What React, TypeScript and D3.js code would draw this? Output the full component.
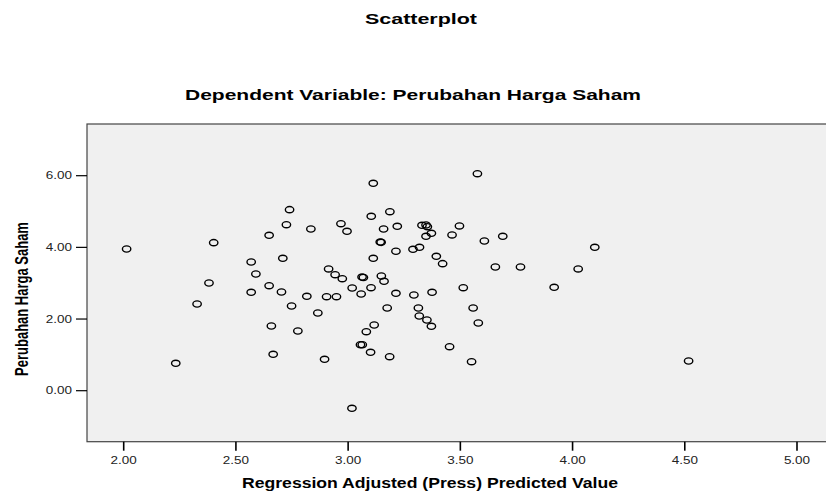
import React, { useRef, useEffect } from "react";
import * as d3 from "d3";

// Regression Adjusted (Press) Predicted Value
const predValue = [
	2.013, 2.401, 2.232, 2.327, 2.380, 2.568, 2.589, 2.568, 2.648, 2.725,
	2.739, 2.709, 2.648, 2.703, 2.748, 2.658, 2.776, 2.666, 2.834, 2.968,
	2.995, 3.103, 3.186, 3.158, 3.219, 3.329, 3.347, 3.353, 3.371, 3.347,
	3.496, 3.463, 3.689, 3.607, 3.143, 3.147, 3.213, 3.289, 3.318, 3.393,
	3.421, 3.656, 3.768, 3.112, 2.913, 2.942, 2.974, 3.062, 3.068, 3.148,
	3.160, 3.018, 3.102, 3.058, 3.513, 2.816, 2.904, 2.948, 3.213, 3.293,
	3.374, 2.865, 3.174, 3.313, 3.557, 3.317, 3.351, 3.371, 3.580, 3.116,
	3.081, 3.055, 3.063, 3.100, 3.185, 3.452, 3.550, 2.895, 3.017, 3.576,
	3.112, 4.099, 4.025, 3.918, 4.517
];

// Perubahan Harga Saham
const hargaSaham = [
	3.955, 4.131, 0.765, 2.420, 3.006, 3.592, 3.257, 2.746, 4.337, 4.633,
	5.052, 3.695, 2.930, 2.755, 2.364, 1.806, 1.666, 1.016, 4.513, 4.661,
	4.449, 4.867, 4.996, 4.513, 4.588, 4.616, 4.625, 4.577, 4.393, 4.309,
	4.597, 4.346, 4.309, 4.178, 4.150, 4.140, 3.891, 3.946, 4.002, 3.751,
	3.545, 3.452, 3.452, 3.695, 3.397, 3.237, 3.126, 3.170, 3.160, 3.201,
	3.053, 2.866, 2.875, 2.699, 2.875, 2.635, 2.623, 2.623, 2.718, 2.671,
	2.746, 2.169, 2.308, 2.308, 2.308, 2.085, 1.973, 1.797, 1.889, 1.834,
	1.647, 1.284, 1.284, 1.072, 0.949, 1.228, 0.809, 0.876, -0.491, 6.056,
	5.788, 4.002, 3.397, 2.886, 0.829
];

const xTicks = [2.0, 2.5, 3.0, 3.5, 4.0, 4.5, 5.0];
const yTicks = [0, 2, 4, 6];

const Scatter = () => {
	const svg_ref = useRef(null);
	const width = 826;
	const height = 494;
	const stretch = 1.35;

	useEffect(() => {
		const svg = d3.select(svg_ref.current);
		svg.selectChildren().remove();

		// frame of the plot area
		const left = 87, top = 124, bottom = 441.7;

		const x_scale = d3.scaleLinear().domain([2, 5]).range([123.7, 797]);
		const y_scale = d3.scaleLinear().domain([0, 6]).range([390.7, 175.7]);

		svg.append("rect")
			.attr("x", left)
			.attr("y", top)
			.attr("width", 800)
			.attr("height", bottom - top)
			.attr("fill", "#f0f0f0")
			.attr("stroke", "#444")
			.attr("stroke-width", 1.2);

		// x ticks
		const xg = svg.append("g");
		xTicks.forEach(t => {
			xg.append("line")
				.attr("x1", x_scale(t)).attr("x2", x_scale(t))
				.attr("y1", bottom).attr("y2", bottom + 9)
				.attr("stroke", "#000").attr("stroke-width", 1.6);
			xg.append("text")
				.attr("transform", `translate(${x_scale(t)}, 464) scale(${stretch}, 1)`)
				.attr("text-anchor", "middle")
				.style("font-family", "Liberation Sans, Arial, sans-serif")
				.style("font-size", "10px")
				.attr("fill", "#222")
				.text(d3.format(".2f")(t));
		});

		// y ticks
		const yg = svg.append("g");
		yTicks.forEach(t => {
			yg.append("line")
				.attr("x1", left - 11).attr("x2", left)
				.attr("y1", y_scale(t)).attr("y2", y_scale(t))
				.attr("stroke", "#000").attr("stroke-width", 1.2);
			yg.append("text")
				.attr("transform", `translate(72, ${y_scale(t) + 3.5}) scale(${stretch}, 1)`)
				.attr("text-anchor", "end")
				.style("font-family", "Liberation Sans, Arial, sans-serif")
				.style("font-size", "10px")
				.attr("fill", "#222")
				.text(d3.format(".2f")(t));
		});

		// points
		const pts = d3.zip(predValue, hargaSaham);
		svg.append("g")
			.selectAll("ellipse")
			.data(pts)
			.enter()
			.append("ellipse")
			.attr("cx", d => x_scale(d[0]))
			.attr("cy", d => y_scale(d[1]))
			.attr("rx", 4.2)
			.attr("ry", 3.1)
			.attr("fill", "none")
			.attr("stroke", "#000")
			.attr("stroke-width", 1.4);

		// titles
		svg.append("text")
			.attr("x", 421).attr("y", 24)
			.attr("text-anchor", "middle")
			.attr("textLength", 112)
			.attr("lengthAdjust", "spacingAndGlyphs")
			.style("font-family", "Liberation Sans, Arial, sans-serif")
			.style("font-weight", "bold")
			.style("font-size", "15px")
			.text("Scatterplot");
		svg.append("text")
			.attr("x", 413).attr("y", 100)
			.attr("text-anchor", "middle")
			.attr("textLength", 456)
			.attr("lengthAdjust", "spacingAndGlyphs")
			.style("font-family", "Liberation Sans, Arial, sans-serif")
			.style("font-weight", "bold")
			.style("font-size", "15px")
			.text("Dependent Variable: Perubahan Harga Saham");
		svg.append("text")
			.attr("x", 242).attr("y", 488)
			.attr("text-anchor", "start")
			.attr("textLength", 376)
			.attr("lengthAdjust", "spacingAndGlyphs")
			.style("font-family", "Liberation Sans, Arial, sans-serif")
			.style("font-weight", "bold")
			.style("font-size", "14px")
			.text("Regression Adjusted (Press) Predicted Value");
		svg.append("text")
			.attr("transform", `translate(28, 299) scale(${stretch}, 1) rotate(-90)`)
			.attr("text-anchor", "middle")
			.style("font-family", "Liberation Sans, Arial, sans-serif")
			.style("font-weight", "bold")
			.style("font-size", "13px")
			.text("Perubahan Harga Saham");
	});

	return (
		<svg ref={svg_ref} width={width} height={height}
			style={{ position: "absolute", left: 0, top: 0, background: "#fff" }}>
		</svg>
	);
};

export default function App() {
	return <Scatter />;
}
